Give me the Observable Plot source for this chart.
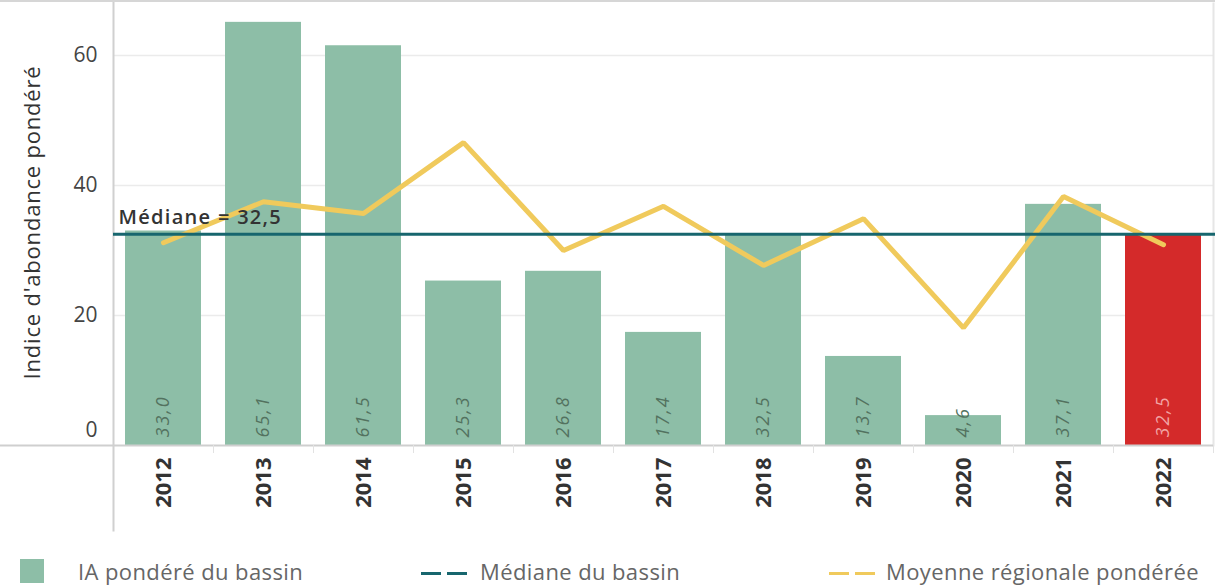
<!DOCTYPE html>
<html><head><meta charset="utf-8">
<script src="https://cdn.jsdelivr.net/npm/d3@7"></script>
<script src="https://cdn.jsdelivr.net/npm/@observablehq/plot@0.6"></script>
<style>
html,body{margin:0;padding:0;background:#fff;}
#wrap{position:relative;width:1215px;height:585px;overflow:hidden;font-family:"Open Sans",sans-serif;}
#topline{position:absolute;left:0;top:0;width:1215px;height:2px;background:#d6d6d6;}
#chart{position:absolute;left:0;top:0;}
.lg{position:absolute;font-size:22px;letter-spacing:0.4px;line-height:24px;color:#666;white-space:nowrap;}
.sq{position:absolute;width:24px;height:24px;}
.dash{position:absolute;height:3px;width:20px;}
.medlab text{letter-spacing:1.3px;}
.barlab text{letter-spacing:2px;}
.ytitle text{letter-spacing:0.8px;}
</style></head>
<body><div id="wrap"><div id="chart"></div><div id="topline"></div>
<div class="sq" style="left:20px;top:559px;background:#8dbea7"></div>
<div class="lg" style="left:78px;top:559px">IA pondéré du bassin</div>
<div class="dash" style="left:421px;top:572px;background:#17666e"></div>
<div class="dash" style="left:447px;top:572px;background:#17666e"></div>
<div class="lg" style="left:480px;top:559px">Médiane du bassin</div>
<div class="dash" style="left:829px;top:572px;background:#f0ca5c"></div>
<div class="dash" style="left:855px;top:572px;background:#f0ca5c"></div>
<div class="lg" style="left:886px;top:559px">Moyenne régionale pondérée</div>
</div>
<script>
const years = [2012, 2013, 2014, 2015, 2016, 2017, 2018, 2019, 2020, 2021, 2022];
const basinValues = [33.0, 65.1, 61.5, 25.3, 26.8, 17.4, 32.5, 13.7, 4.6, 37.1, 32.5];
const regionalValues = [31.2, 37.5, 35.7, 46.6, 30.0, 36.8, 27.7, 34.9, 18.1, 38.3, 30.9];
const median = 32.5;
const highlightYear = 2022;
const yTicks = [20, 40, 60];
const yTitle = "Indice d'abondance pondéré";
const medianLabel = "Médiane = 32,5";

const data = years.map((year, i) => ({year, value: basinValues[i], regional: regionalValues[i]}));
const fmt = v => v.toFixed(1).replace(".", ",");
const green = "#8dbea7", red = "#d42a2a", teal = "#17666e", yellow = "#f0ca5c";

const plot = Plot.plot({
  width: 1215, height: 540,
  marginLeft: 113, marginRight: 2, marginTop: 3, marginBottom: 95,
  style: {fontFamily: "'Open Sans', sans-serif", background: "#fff", overflow: "visible"},
  x: {type: "band", domain: years, paddingInner: 0.24, paddingOuter: 0.12},
  y: {domain: [0, 68]},
  marks: [
    Plot.ruleY(yTicks, {stroke: "#ebebeb", strokeWidth: 1.5}),
    Plot.frame({anchor: "right", stroke: "#e6e6e6", strokeWidth: 2}),
    Plot.barY(data.filter(d => d.year !== highlightYear), {x: "year", y: "value", fill: green}),
    Plot.barY(data.filter(d => d.year === highlightYear), {x: "year", y: "value", fill: red}),
    Plot.text(data, {x: "year", y: 0, text: d => fmt(d.value), rotate: -90, textAnchor: "start", dy: -8,
      fill: d => d.year === highlightYear ? "#f2a5a5" : "#53725f", fontStyle: "italic", fontSize: 18,
      className: "barlab"}),
    Plot.ruleY([0], {stroke: "#cfcfcf", strokeWidth: 2, insetLeft: -113}),
    Plot.ruleX(years, {x: d => d, dx: 50, y1: 0, y2: 0, insetBottom: -8, stroke: "#e2e2e2"}),
    Plot.frame({anchor: "left", stroke: "#d0d0d0", strokeWidth: 2, insetBottom: -85, insetTop: -3}),
    Plot.lineY(data, {x: "year", y: "regional", stroke: yellow, strokeWidth: 5, strokeLinejoin: "miter"}),
    Plot.ruleY([median], {stroke: teal, strokeWidth: 3, insetRight: -2}),
    Plot.text([medianLabel], {frameAnchor: "left", y: median, text: d => d, dx: 5, dy: -17, textAnchor: "start",
      fontSize: 20, fontWeight: 600, fill: "#333", className: "medlab"}),
    Plot.axisY(yTicks, {tickSize: 0, tickPadding: 16, fontSize: 21, color: "#444", label: null}),
    Plot.axisY([0], {tickSize: 0, tickPadding: 16, fontSize: 21, color: "#444", label: null, dy: -15}),
    Plot.text([yTitle], {frameAnchor: "left", dx: -81, dy: -2, rotate: -90, textAnchor: "middle", text: d => d,
      fontSize: 22, fill: "#333", className: "ytitle"}),
    Plot.axisX({tickRotate: -90, tickSize: 0, tickPadding: 12, tickFormat: d => String(d), fontSize: 22, fontWeight: "bold", color: "#333", label: null})
  ]
});
document.getElementById("chart").appendChild(plot);

// semi-transparent background behind the median label, sized from the text itself
const lab = plot.querySelector(".medlab text");
if (lab) {
  const bb = lab.getBBox();
  const rect = document.createElementNS("http://www.w3.org/2000/svg", "rect");
  rect.setAttribute("x", bb.x - 3); rect.setAttribute("y", bb.y);
  rect.setAttribute("width", bb.width + 6); rect.setAttribute("height", bb.height);
  rect.setAttribute("fill", "#fff"); rect.setAttribute("fill-opacity", 0.75);
  lab.parentNode.insertBefore(rect, lab);
}
</script></body></html>
